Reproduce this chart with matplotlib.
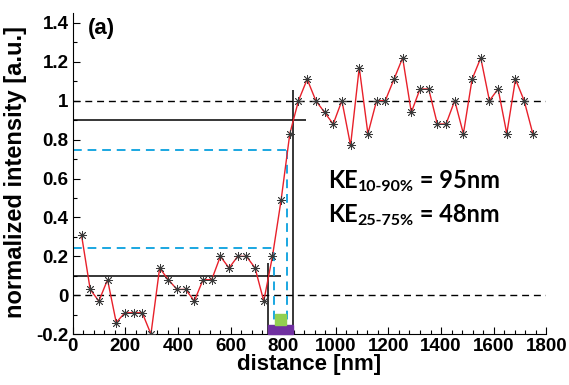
import matplotlib
matplotlib.use("Agg")
import matplotlib.pyplot as plt
from matplotlib.patches import Rectangle
from matplotlib.ticker import MultipleLocator

# line profile across the edge (sampling step ~33 nm)
distance = [33, 66, 99, 132, 165, 198, 231, 264, 297, 330, 363, 396, 429, 462,
            495, 528, 561, 594, 627, 660, 693, 726, 759, 792, 825, 858, 891,
            924, 957, 990, 1023, 1056, 1089, 1122, 1155, 1188, 1221, 1254,
            1287, 1320, 1353, 1386, 1419, 1452, 1485, 1518, 1551, 1584, 1617,
            1650, 1683, 1716, 1749]
intensity = [0.31, 0.03, -0.03, 0.08, -0.14, -0.09, -0.09, -0.09, -0.20, 0.14,
             0.08, 0.03, 0.03, -0.03, 0.08, 0.08, 0.20, 0.14, 0.20, 0.20,
             0.14, -0.03, 0.20, 0.49, 0.83, 1.00, 1.11, 1.00, 0.94, 0.88,
             1.00, 0.77, 1.17, 0.83, 1.00, 1.00, 1.11, 1.22, 0.94, 1.06,
             1.06, 0.88, 0.88, 1.00, 0.83, 1.11, 1.22, 1.00, 1.06, 0.83,
             1.11, 1.00, 0.83]

# edge markers: 10-90% (black) and 25-75% (cyan)
levels_10_90 = [0.1, 0.9]
edges_10_90 = [742, 837]
levels_25_75 = [0.245, 0.745]
edges_25_75 = [765, 815]

plt.rcParams["font.family"] = ["Liberation Sans", "DejaVu Sans"]

fig = plt.figure(figsize=(5.69, 3.85), dpi=100)
ax = fig.add_axes([0.128, 0.132, 0.832, 0.834])

# reference levels
ax.axhline(1, color="black", lw=1.0, dashes=(5, 3.5))
ax.axhline(0, color="black", lw=1.0, dashes=(5, 3.5))

# 10-90% guides
ax.hlines(levels_10_90[0], 0, 792, color="black", lw=1.1)
ax.hlines(levels_10_90[1], 0, 886, color="black", lw=1.1)
ax.vlines(edges_10_90[0], -0.2, 0.165, color="black", lw=1.1)
ax.vlines(edges_10_90[1], -0.2, 1.055, color="black", lw=1.1)

# 25-75% guides
cyan = "#1aa7e1"
ls_c = (0, (4.5, 3))
ax.hlines(levels_25_75[0], 0, edges_25_75[0], color=cyan, lw=1.4, linestyles=ls_c)
ax.hlines(levels_25_75[1], 0, edges_25_75[1], color=cyan, lw=1.4, linestyles=ls_c)
ax.vlines(edges_25_75[0], -0.2, levels_25_75[0], color=cyan, lw=1.4, linestyles=ls_c)
ax.vlines(edges_25_75[1], -0.2, levels_25_75[1], color=cyan, lw=1.4, linestyles=ls_c)

# edge width bars
ax.add_patch(Rectangle((edges_10_90[0], -0.2), edges_10_90[1] - edges_10_90[0], 0.045,
                       color="#7030a0", zorder=3, clip_on=False))
ax.add_patch(Rectangle((edges_25_75[0] + 3, -0.155), edges_25_75[1] - edges_25_75[0] - 6, 0.058,
                       color="#92d050", zorder=3))

ax.plot(distance, intensity, color="#e8202a", lw=1.0, marker=(8, 2, 0),
        markersize=6.5, markeredgecolor="#3a3a3a", markeredgewidth=0.6, zorder=4)

ax.set_xlim(0, 1800)
ax.set_ylim(-0.2, 1.45)
ax.set_xticks(range(0, 1801, 200))
ax.set_yticks([-0.2, 0, 0.2, 0.4, 0.6, 0.8, 1, 1.2, 1.4])
ax.set_yticklabels(["-0.2", "0", "0.2", "0.4", "0.6", "0.8", "1", "1.2", "1.4"])
ax.xaxis.set_minor_locator(MultipleLocator(40))
ax.yaxis.set_minor_locator(MultipleLocator(0.1))
ax.tick_params(which="both", direction="in", labelsize=13.5, width=0.8)
ax.tick_params(which="major", length=5, pad=3)
ax.tick_params(which="minor", length=3)
for lab in ax.get_xticklabels() + ax.get_yticklabels():
    lab.set_fontweight("bold")
ax.spines["top"].set_visible(False)
ax.spines["right"].set_visible(False)

ax.set_xlabel("distance [nm]", fontsize=16, fontweight="bold", labelpad=-1)
ax.set_ylabel("normalized intensity [a.u.]", fontsize=17, fontweight="bold")
ax.yaxis.set_label_coords(-0.097, 0.505)

ax.text(0.032, 0.985, "(a)", transform=ax.transAxes, fontsize=16, fontweight="bold",
        va="top", ha="left")

# KE labels with subscripts, pieces chained so the hyphen stays a plain hyphen
ke_font = dict(fontsize=17, fontfamily="Lato", fontweight="bold")
sub_font = dict(fontsize=11.5, fontfamily="Lato", fontweight="bold")
for y_txt, sub, val in [(0.53, "10-90%", " = 95nm"), (0.355, "25-75%", " = 48nm")]:
    t1 = ax.text(969, y_txt, "KE", va="bottom", **ke_font)
    t2 = ax.annotate(sub, xy=(1, 0), xycoords=t1, xytext=(0.3, 0.5),
                     textcoords="offset points", va="baseline", **sub_font)
    ax.annotate(val, xy=(1, 0), xycoords=(t2, t1), va="bottom", **ke_font)

plt.savefig("out.png", dpi=100)
plt.close()
